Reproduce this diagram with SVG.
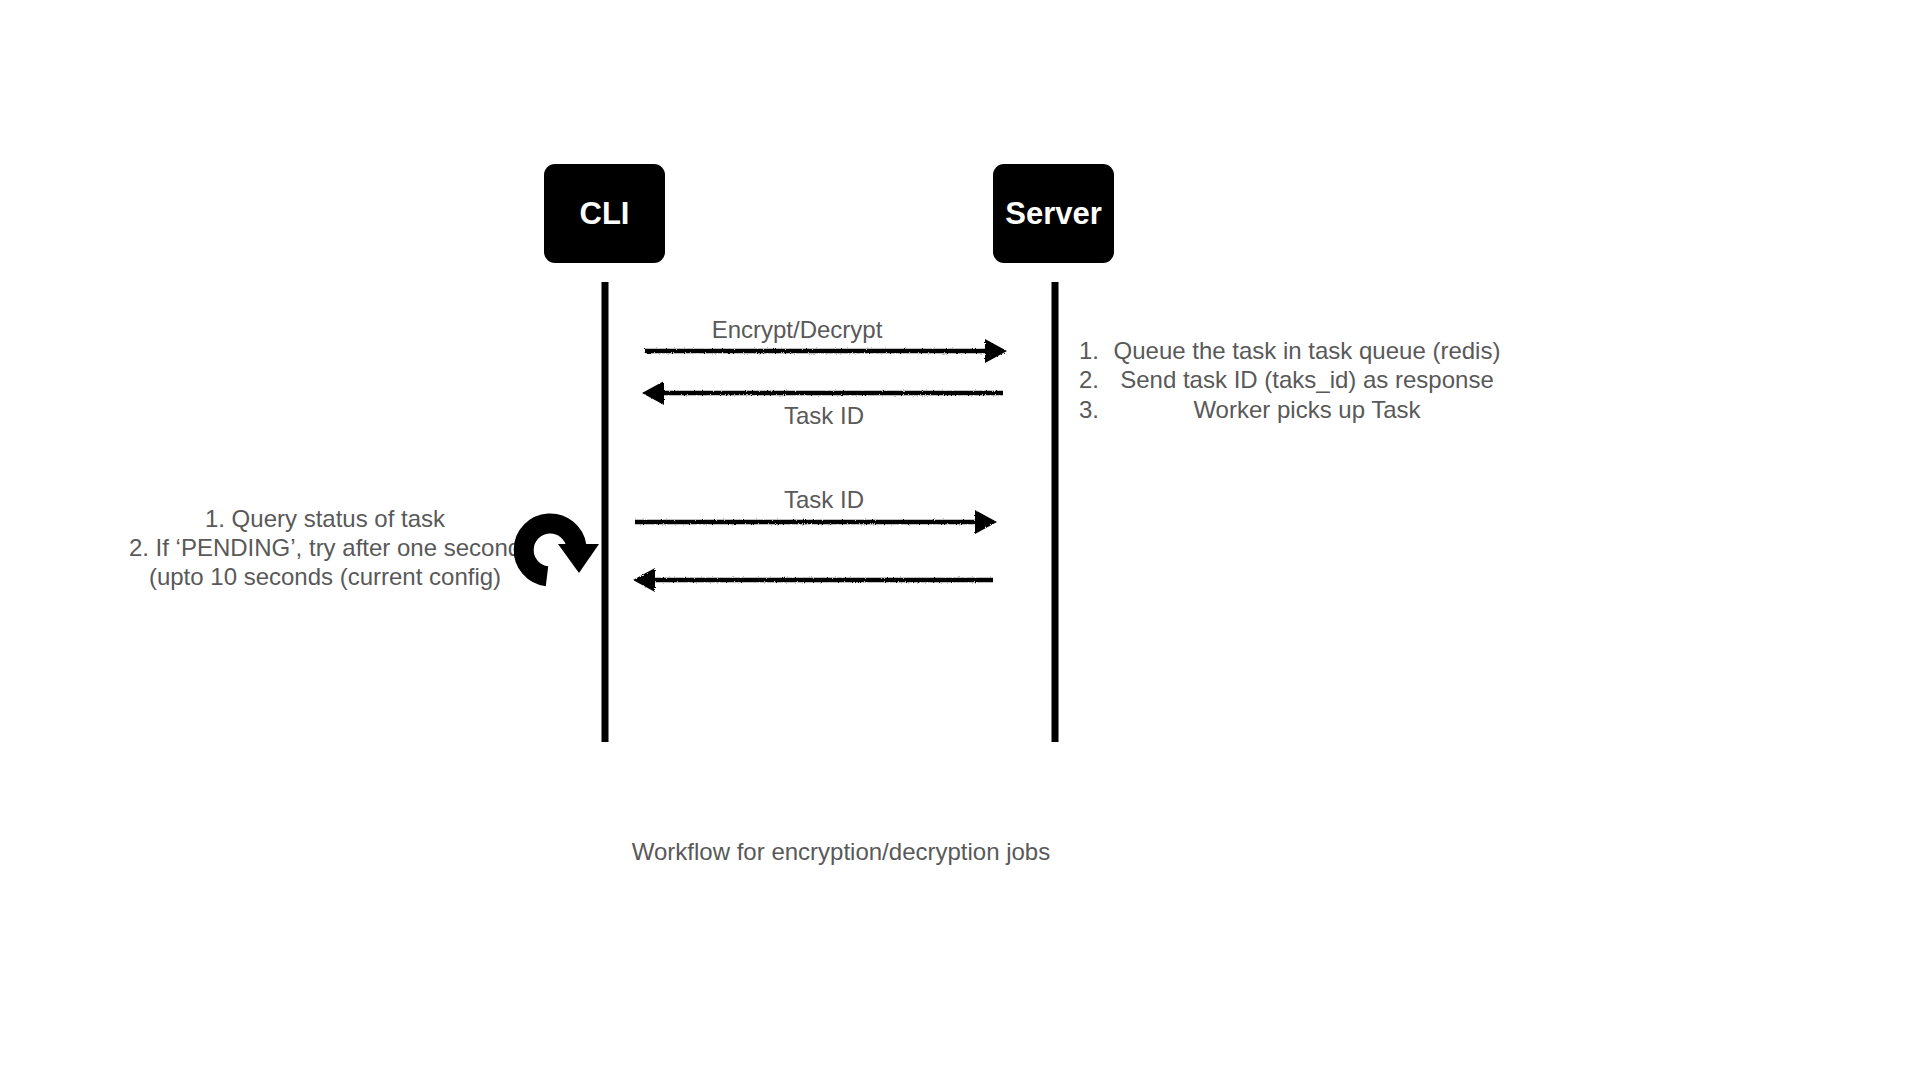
<svg xmlns="http://www.w3.org/2000/svg" width="1920" height="1080" viewBox="0 0 1920 1080">
<style>
.t{font-family:"Liberation Sans",Arial,sans-serif;font-size:24px;fill:#595959}
.c{text-anchor:middle}
.box{fill:#000}
.bl{font-family:"Liberation Sans",Arial,sans-serif;font-size:31px;font-weight:bold;fill:#fff;text-anchor:middle}
.life{stroke:#000;stroke-width:7}
.msg{stroke:#000;stroke-width:4.5;fill:none}
.head{fill:#000}
</style>
<defs>
<filter id="rough" x="-5%" y="-50%" width="110%" height="200%">
<feTurbulence type="fractalNoise" baseFrequency="0.9" numOctaves="2" seed="3"/>
<feDisplacementMap in="SourceGraphic" scale="2.5"/>
</filter>
<clipPath id="leftclip"><rect x="0" y="480" width="515" height="130"/></clipPath>
</defs>
<rect width="1920" height="1080" fill="#fff"/>

<g id="cli">
<rect class="box" x="544" y="164" width="121" height="99" rx="11"/>
<text class="bl" x="604.5" y="224">CLI</text>
<line class="life" x1="605" y1="282" x2="605" y2="742"/>
</g>

<g id="server">
<rect class="box" x="993" y="164" width="121" height="99" rx="11"/>
<text class="bl" x="1053.5" y="224">Server</text>
<line class="life" x1="1055" y1="282" x2="1055" y2="742"/>
</g>

<g id="connectors" filter="url(#rough)">
<line class="msg" x1="645" y1="351" x2="990" y2="351"/>
<polygon class="head" points="985,339 1007,351 985,363"/>
<line class="msg" x1="1003" y1="393" x2="658" y2="393"/>
<polygon class="head" points="664,381 642,393 664,405"/>
<line class="msg" x1="635" y1="522" x2="980" y2="522"/>
<polygon class="head" points="975,510 997,522 975,534"/>
<line class="msg" x1="993" y1="580" x2="648" y2="580"/>
<polygon class="head" points="655,568 633,580 655,592"/>
</g>

<g id="labels">
<text class="t c" x="797" y="338">Encrypt/Decrypt</text>
<text class="t c" x="824" y="424">Task ID</text>
<text class="t c" x="824" y="508">Task ID</text>
</g>

<g id="server-notes">
<text class="t" x="1079" y="359">1.</text>
<text class="t c" x="1307" y="359">Queue the task in task queue (redis)</text>
<text class="t" x="1079" y="388">2.</text>
<text class="t c" x="1307" y="388">Send task ID (taks_id) as response</text>
<text class="t" x="1079" y="418">3.</text>
<text class="t c" x="1307" y="418">Worker picks up Task</text>
</g>

<g id="cli-notes" clip-path="url(#leftclip)">
<text class="t c" x="325" y="527">1. Query status of task</text>
<text class="t c" x="325" y="556">2. If ‘PENDING’, try after one second</text>
<text class="t c" x="325" y="585">(upto 10 seconds (current config)</text>
</g>

<g id="loop-icon">
<path d="M 547 576.3 A 26.5 26.5 0 1 1 576.4 546" fill="none" stroke="#000" stroke-width="20"/>
<polygon points="558,544 599,544 579,573" fill="#000"/>
</g>

<text class="t c" x="841" y="860">Workflow for encryption/decryption jobs</text>
</svg>
